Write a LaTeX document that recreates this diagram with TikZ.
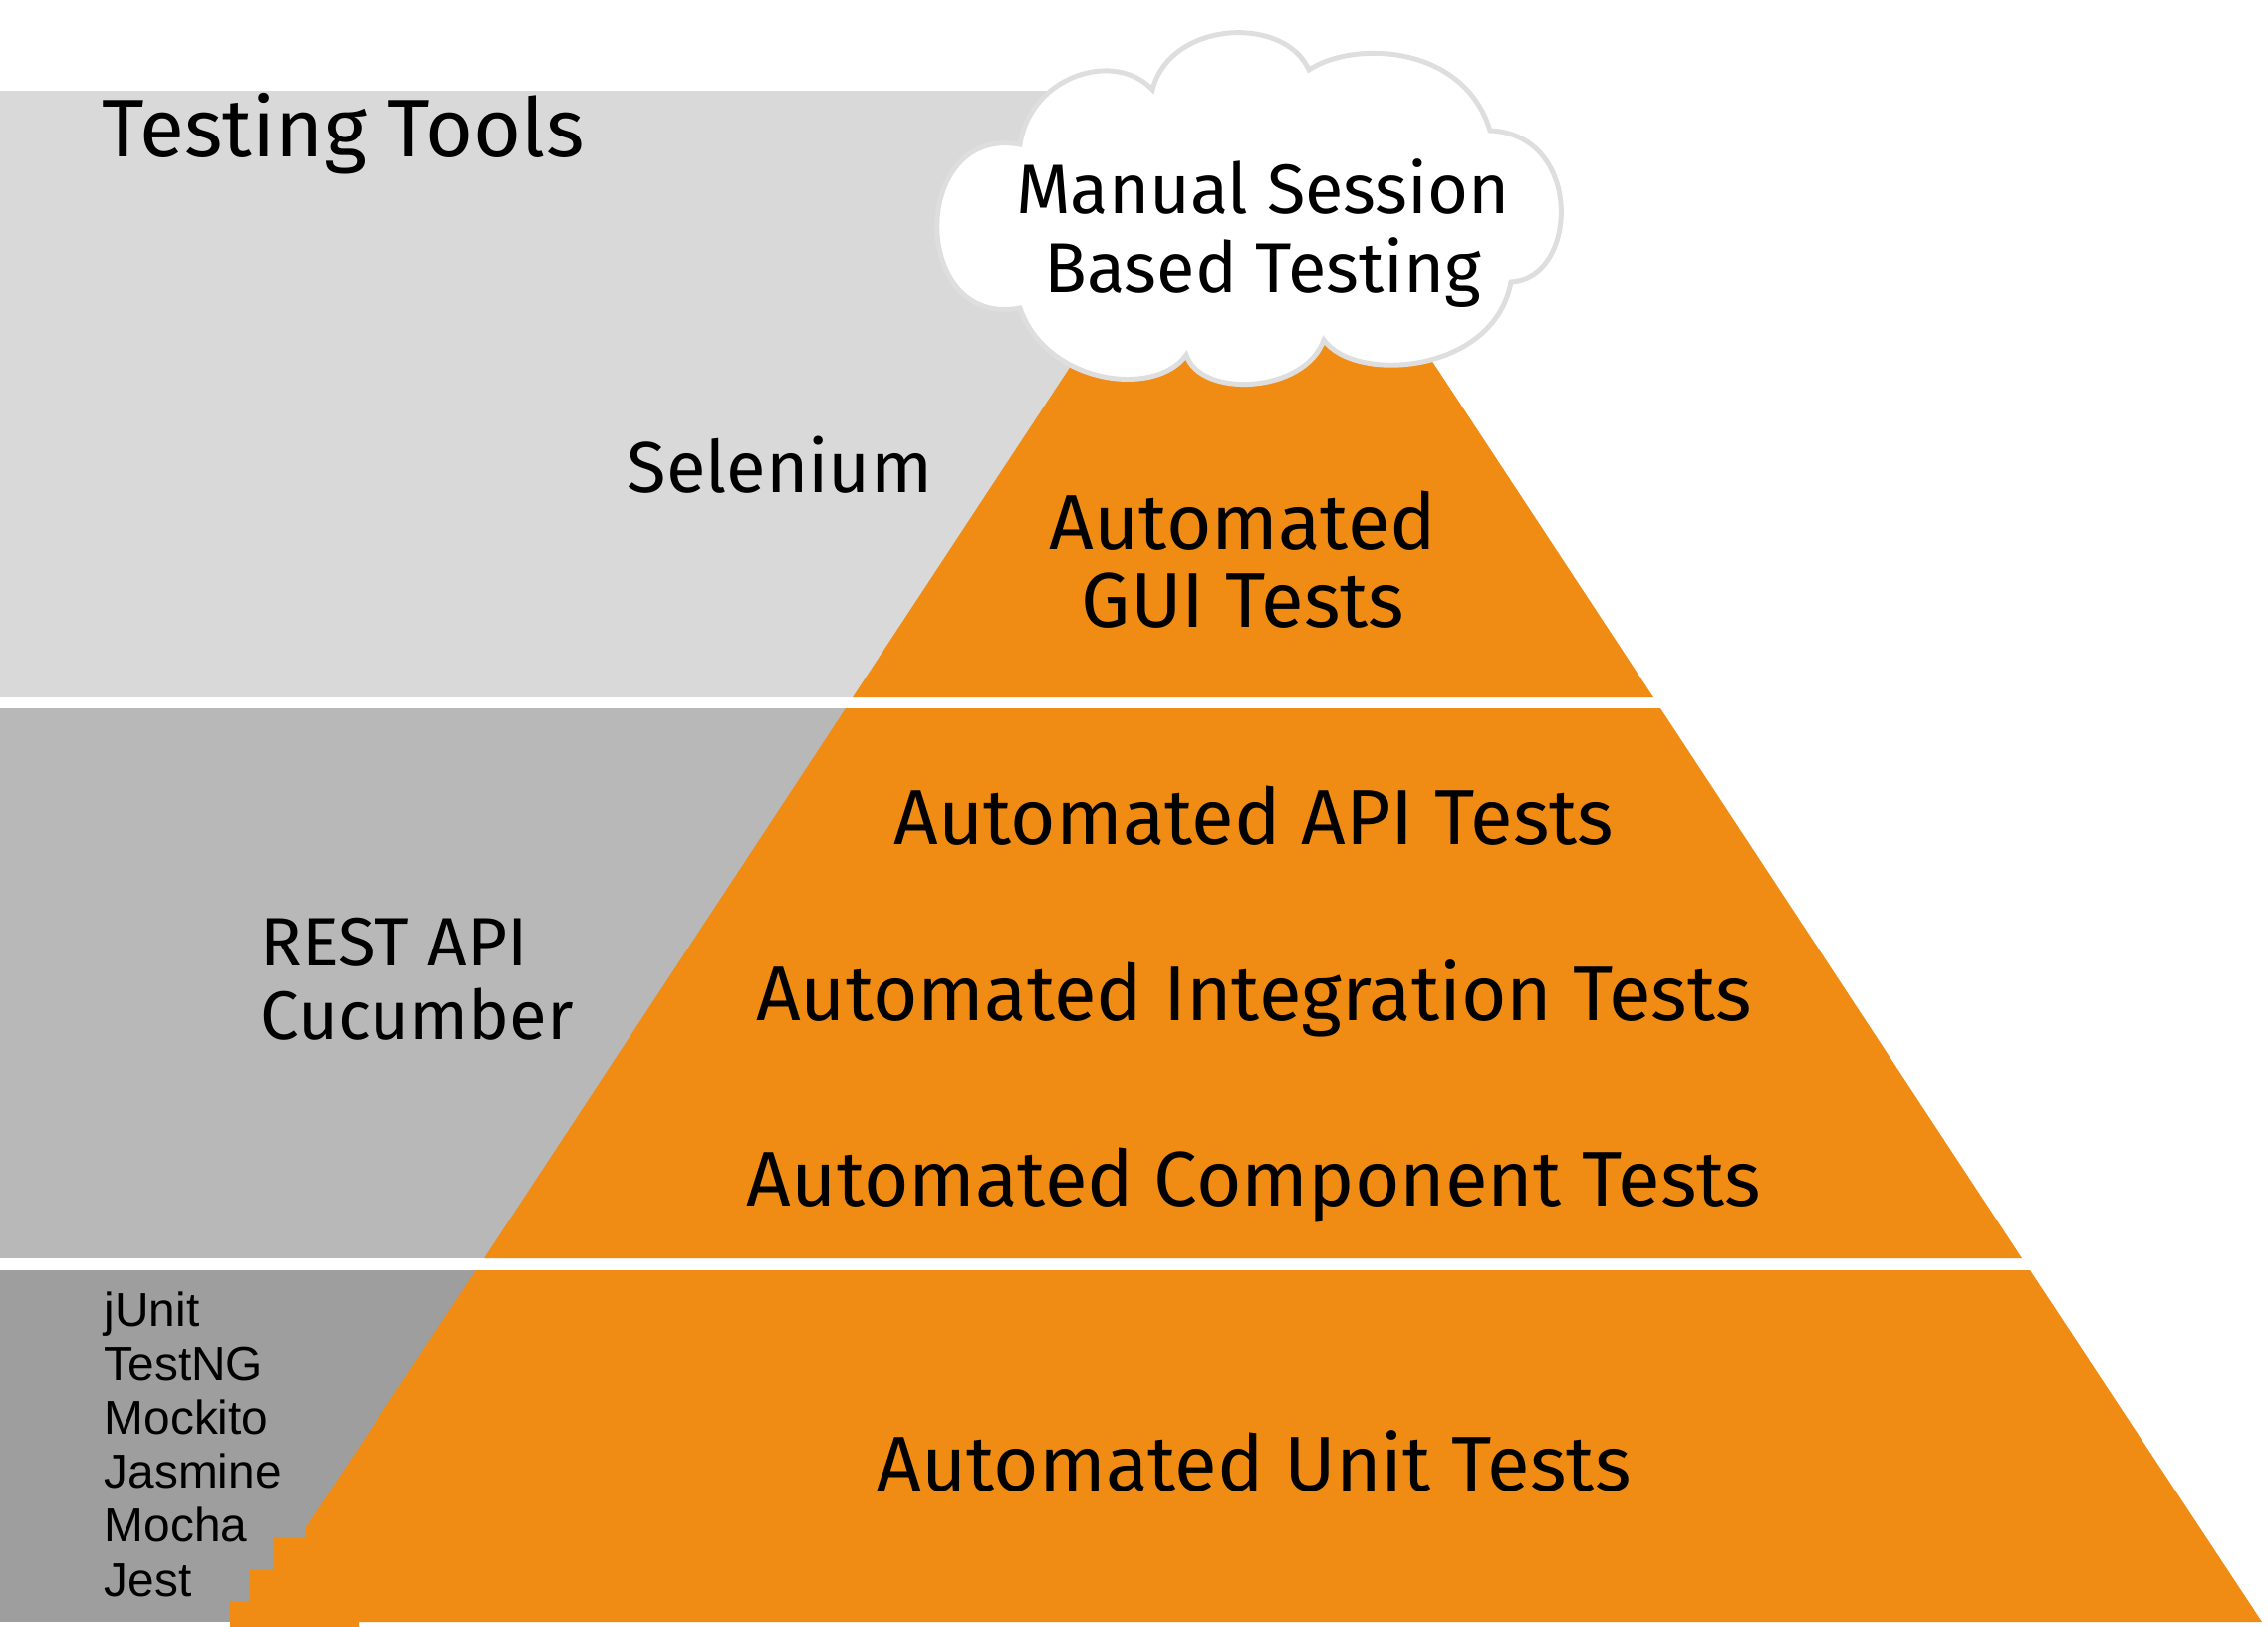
\documentclass[tikz,border=0pt]{standalone}
\usepackage{fontspec}
\setmainfont{Fira Sans}
\newfontfamily\toolfont{Liberation Sans}
\definecolor{pyrorange}{RGB}{240,139,20}
\definecolor{bandlight}{RGB}{217,217,217}
\definecolor{bandmid}{RGB}{184,184,184}
\definecolor{banddark}{RGB}{158,158,158}
\definecolor{cloudline}{RGB}{222,222,222}

\begin{document}
\begin{tikzpicture}[x=0.01cm,y=-0.01cm,
    tier/.style={font=\fontsize{22.2}{21.9}\selectfont, align=center, anchor=base, inner sep=0pt},
    tool/.style={font=\fontsize{19.6}{20.8}\selectfont, align=left, anchor=base west, inner sep=0pt}]
  \useasboundingbox (0,0) rectangle (2277,1633);
  % grey bands behind the pyramid
  \fill[bandlight] (0,91) rectangle (1258,700);
  \fill[bandmid] (0,711) rectangle (1258,1263);
  \fill[banddark] (0,1275) rectangle (1258,1628);
  % pyramid tiers
  \fill[pyrorange] (1258,89) -- (1660,700) -- (856,700) -- cycle;
  \fill[pyrorange] (849,711) -- (1667,711) -- (2030,1263) -- (486,1263) -- cycle;
  \fill[pyrorange] (478,1275) -- (2038,1275) -- (2271,1628) -- (360,1628) -- (360,1633)
    -- (231,1633) -- (231,1607) -- (251,1607) -- (251,1575) -- (275,1575) -- (275,1543)
    -- (307,1543) -- (307,1533) -- cycle;
  % cloud on top
  \filldraw[fill=white, draw=cloudline, line width=1.4pt]
    (1024,309) .. controls (913,330) and (913,125) .. (1024,145)
    .. controls (1035,75) and (1120,50) .. (1157,90)
    .. controls (1175,20) and (1290,15) .. (1314,70)
    .. controls (1360,40) and (1470,45) .. (1496,131)
    .. controls (1590,135) and (1585,280) .. (1517,283)
    .. controls (1500,375) and (1360,385) .. (1329,341)
    .. controls (1310,395) and (1205,400) .. (1191,356)
    .. controls (1160,400) and (1050,385) .. (1024,309) -- cycle;

  % multi-line nodes sit on the baseline of their last line
  \node[anchor=base west, font=\fontsize{23.4}{24}\selectfont, inner sep=0pt] (title) at (102,157) {Testing Tools};
  \node[tier, font=\fontsize{20}{22.2}\selectfont] (manual) at (1268,293) {Manual Session\\Based Testing};
  \node[tool, font=\fontsize{20.6}{21}\selectfont] (selenium) at (629,494) {Selenium};
  \node[tier] (gui) at (1248,629) {Automated\\GUI Tests};
  \node[tier] (api) at (1259,847) {Automated API Tests};
  \node[tier] (integration) at (1259,1024) {Automated Integration Tests};
  \node[tier] (component) at (1259,1210) {Automated Component Tests};
  \node[tier] (unit) at (1259,1496) {Automated Unit Tests};
  \node[tool] (rest) at (261,1043) {REST API\\Cucumber};
  \node[tool, font=\toolfont\fontsize{13.6}{15.36}\selectfont] (unitlibs) at (104,1602) {jUnit\\TestNG\\Mockito\\Jasmine\\Mocha\\Jest};
\end{tikzpicture}
\end{document}
